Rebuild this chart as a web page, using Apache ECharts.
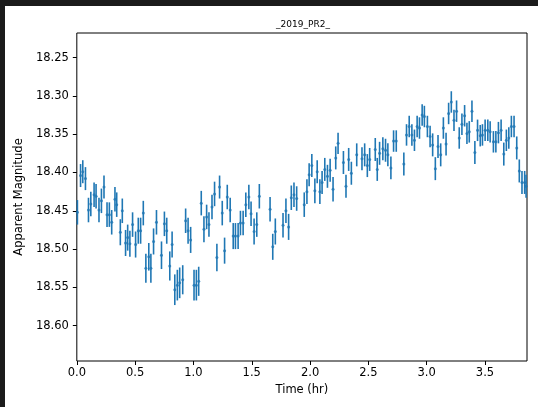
<!DOCTYPE html>
<html>
<head>
<meta charset="utf-8">
<script src="https://cdn.jsdelivr.net/npm/echarts@6/dist/echarts.min.js"></script>
<style>
  html, body { margin: 0; padding: 0; background: #1b1b1b; }
  #chart { position: absolute; left: 5px; top: 6px; width: 533px; height: 401px; background: #fff; }
</style>
</head>
<body>
<div id="chart"></div>
<script>
// light curve of _2019_PR2_ (time in hours, apparent magnitude, 1-sigma error)
const times = [
  0.005, 0.032, 0.051, 0.074, 0.100, 0.120, 0.148, 0.165, 0.190, 0.211,
  0.233, 0.259, 0.279, 0.299, 0.327, 0.342, 0.373, 0.390, 0.418, 0.436,
  0.455, 0.478, 0.504, 0.527, 0.547, 0.570, 0.592, 0.617, 0.635, 0.658,
  0.683, 0.726, 0.751, 0.771, 0.797, 0.817, 0.840, 0.862, 0.882, 0.908,
  0.933, 0.954, 0.976, 1.005, 1.025, 1.045, 1.067, 1.090, 1.113, 1.133,
  1.159, 1.181, 1.201, 1.224, 1.247, 1.267, 1.290, 1.315, 1.341, 1.360,
  1.383, 1.403, 1.426, 1.449, 1.475, 1.494, 1.520, 1.543, 1.565, 1.657,
  1.680, 1.702, 1.768, 1.793, 1.816, 1.839, 1.862, 1.885, 1.950, 1.973,
  1.992, 2.015, 2.041, 2.061, 2.084, 2.103, 2.126, 2.149, 2.172, 2.197,
  2.220, 2.240, 2.286, 2.308, 2.331, 2.354, 2.400, 2.445, 2.468, 2.491,
  2.511, 2.559, 2.576, 2.596, 2.624, 2.647, 2.667, 2.693, 2.716, 2.739,
  2.804, 2.827, 2.850, 2.873, 2.895, 2.918, 2.938, 2.961, 2.980, 3.006,
  3.029, 3.051, 3.074, 3.097, 3.120, 3.143, 3.166, 3.188, 3.211, 3.234,
  3.256, 3.279, 3.302, 3.325, 3.345, 3.365, 3.388, 3.413, 3.436, 3.459,
  3.478, 3.501, 3.524, 3.544, 3.572, 3.593, 3.615, 3.638, 3.661, 3.683,
  3.704, 3.726, 3.749, 3.772, 3.794, 3.817, 3.840, 3.852
];
const mags = [
  18.452, 18.404, 18.399, 18.408, 18.449, 18.441, 18.429, 18.431, 18.449, 18.437,
  18.419, 18.455, 18.455, 18.465, 18.435, 18.442, 18.478, 18.450, 18.492, 18.485,
  18.493, 18.468, 18.494, 18.476, 18.476, 18.453, 18.525, 18.510, 18.525, 18.490,
  18.465, 18.508, 18.467, 18.476, 18.522, 18.494, 18.553, 18.547, 18.544, 18.540,
  18.463, 18.476, 18.488, 18.547, 18.547, 18.542, 18.440, 18.474, 18.458, 18.468,
  18.445, 18.428, 18.511, 18.419, 18.453, 18.502, 18.432, 18.449, 18.483, 18.483,
  18.483, 18.466, 18.466, 18.442, 18.432, 18.454, 18.477, 18.468, 18.431, 18.448,
  18.497, 18.477, 18.469, 18.450, 18.471, 18.433, 18.429, 18.434, 18.442, 18.425,
  18.403, 18.391, 18.424, 18.399, 18.425, 18.413, 18.396, 18.405, 18.397, 18.422,
  18.381, 18.362, 18.387, 18.418, 18.383, 18.401, 18.377, 18.382, 18.377, 18.391,
  18.383, 18.370, 18.396, 18.375, 18.369, 18.371, 18.377, 18.394, 18.359, 18.359,
  18.389, 18.351, 18.340, 18.351, 18.358, 18.340, 18.342, 18.325, 18.327, 18.340,
  18.353, 18.364, 18.395, 18.366, 18.377, 18.342, 18.363, 18.323, 18.308, 18.332,
  18.320, 18.355, 18.337, 18.326, 18.349, 18.347, 18.320, 18.374, 18.345, 18.352,
  18.351, 18.345, 18.345, 18.347, 18.360, 18.360, 18.348, 18.345, 18.376, 18.358,
  18.355, 18.340, 18.340, 18.368, 18.398, 18.413, 18.413, 18.418
];
const errs = [
  0.016, 0.015, 0.015, 0.015, 0.016, 0.016, 0.016, 0.016, 0.016, 0.016,
  0.015, 0.016, 0.016, 0.016, 0.016, 0.016, 0.017, 0.016, 0.017, 0.017,
  0.017, 0.016, 0.017, 0.017, 0.017, 0.016, 0.019, 0.018, 0.019, 0.017,
  0.016, 0.018, 0.016, 0.017, 0.019, 0.017, 0.020, 0.020, 0.020, 0.019,
  0.016, 0.017, 0.017, 0.020, 0.020, 0.019, 0.016, 0.017, 0.016, 0.016,
  0.016, 0.016, 0.018, 0.015, 0.016, 0.017, 0.016, 0.016, 0.017, 0.017,
  0.017, 0.016, 0.016, 0.016, 0.016, 0.016, 0.017, 0.016, 0.016, 0.016,
  0.017, 0.017, 0.016, 0.016, 0.017, 0.016, 0.016, 0.016, 0.016, 0.016,
  0.015, 0.015, 0.016, 0.015, 0.016, 0.015, 0.015, 0.015, 0.015, 0.016,
  0.015, 0.014, 0.015, 0.015, 0.015, 0.015, 0.015, 0.015, 0.015, 0.015,
  0.015, 0.015, 0.015, 0.015, 0.015, 0.015, 0.015, 0.015, 0.014, 0.014,
  0.015, 0.014, 0.014, 0.014, 0.014, 0.014, 0.014, 0.014, 0.014, 0.014,
  0.014, 0.015, 0.015, 0.015, 0.015, 0.014, 0.015, 0.014, 0.014, 0.014,
  0.014, 0.014, 0.014, 0.014, 0.014, 0.014, 0.014, 0.015, 0.014, 0.014,
  0.014, 0.014, 0.014, 0.014, 0.014, 0.014, 0.014, 0.014, 0.015, 0.014,
  0.014, 0.014, 0.014, 0.015, 0.015, 0.015, 0.015, 0.015
];
const xTicks = [0, 0.5, 1.0, 1.5, 2.0, 2.5, 3.0, 3.5];
const yTicks = [18.25, 18.30, 18.35, 18.40, 18.45, 18.50, 18.55, 18.60];

const points = times.map((t, i) => [t, mags[i], errs[i]]);
const blue = '#1f77b4';
const font = 'DejaVu Sans';

const chart = echarts.init(document.getElementById('chart'));

const option = {
  animation: false,
  backgroundColor: '#fff',
  title: {
    text: '_2019_PR2_',
    left: 293,
    top: 9,
    textAlign: 'center',
    textStyle: { fontFamily: font, fontSize: 9, fontWeight: 'normal', color: '#000' }
  },
  grid: {
    left: 70,
    right: 11,
    top: 27,
    bottom: 46,
    show: true,
    borderColor: '#000',
    borderWidth: 1,
    backgroundColor: '#fff'
  },
  xAxis: {
    type: 'value',
    min: 0,
    max: 3.86,
    name: 'Time (hr)',
    nameLocation: 'middle',
    nameGap: 22,
    nameTextStyle: { fontFamily: font, fontSize: 11.5, color: '#000' },
    axisLine: { show: false },
    splitLine: { show: false },
    axisTick: { show: true, length: 4, customValues: xTicks, lineStyle: { color: '#000' } },
    axisLabel: {
      customValues: xTicks,
      margin: 6,
      fontFamily: font,
      fontSize: 11.5,
      color: '#000',
      formatter: v => v.toFixed(1)
    }
  },
  yAxis: {
    type: 'value',
    inverse: true,
    min: 18.218,
    max: 18.646,
    name: 'Apparent Magnitude',
    nameLocation: 'middle',
    nameGap: 42,
    nameTextStyle: { fontFamily: font, fontSize: 11.5, color: '#000' },
    axisLine: { show: false },
    splitLine: { show: false },
    axisTick: { show: true, length: 4, customValues: yTicks, lineStyle: { color: '#000' } },
    axisLabel: {
      customValues: yTicks,
      margin: 8,
      fontFamily: font,
      fontSize: 11.5,
      color: '#000',
      formatter: v => v.toFixed(2)
    }
  },
  series: [
    {
      // error bars
      type: 'custom',
      clip: true,
      data: points,
      renderItem: (params, api) => {
        const t = api.value(0);
        const m = api.value(1);
        const e = api.value(2);
        const a = api.coord([t, m - e]);
        const b = api.coord([t, m + e]);
        return {
          type: 'line',
          shape: { x1: a[0], y1: a[1], x2: b[0], y2: b[1] },
          style: { stroke: blue, lineWidth: 1.6 }
        };
      }
    },
    {
      type: 'scatter',
      data: points,
      symbol: 'circle',
      symbolSize: 3,
      itemStyle: { color: blue },
      clip: true
    }
  ]
};

chart.setOption(option);
</script>
</body>
</html>
